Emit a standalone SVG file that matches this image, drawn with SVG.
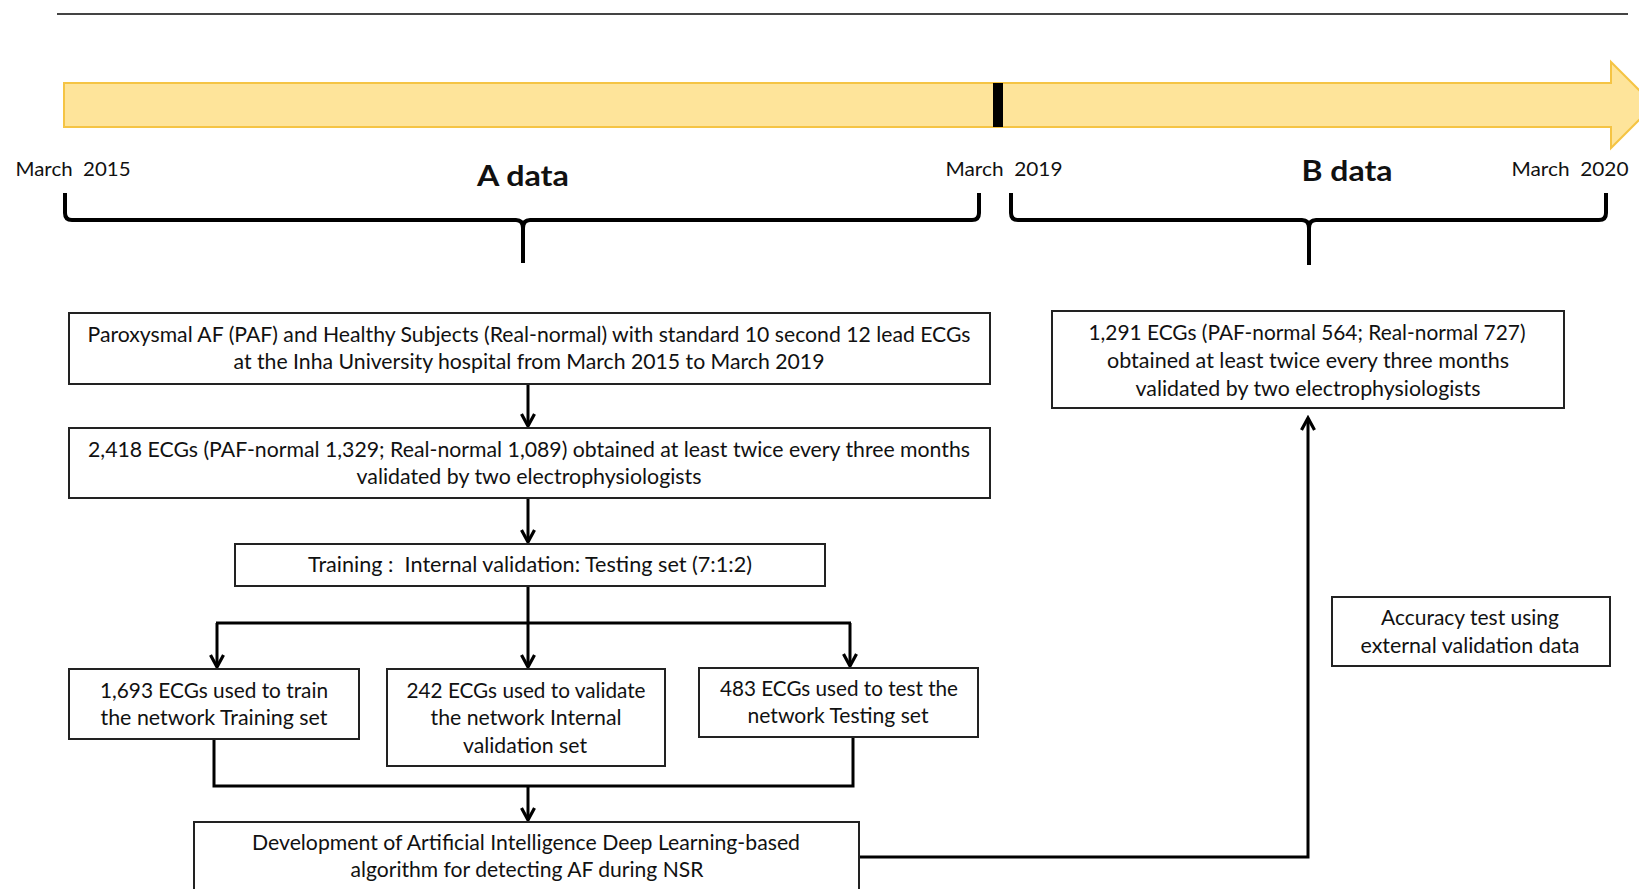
<svg xmlns="http://www.w3.org/2000/svg" width="1639" height="889" viewBox="0 0 1639 889">
<style>
.box{fill:#fff;stroke:#222;stroke-width:2}
.t{font-family:Lato,"Liberation Sans",sans-serif;font-size:21px;fill:#111;text-anchor:middle;white-space:pre}
.d{font-family:Lato,"Liberation Sans",sans-serif;font-size:19px;fill:#111;text-anchor:middle;white-space:pre}
.h{font-family:Lato,"Liberation Sans",sans-serif;font-size:29px;font-weight:bold;fill:#111;text-anchor:middle}
.c{fill:none;stroke:#000;stroke-width:3}
.br{fill:none;stroke:#000;stroke-width:4}
</style>
<defs>
<marker id="arr" viewBox="-15 -9 18 18" refX="0" refY="0" markerWidth="18" markerHeight="18" markerUnits="userSpaceOnUse" orient="auto">
<path d="M-12,-6.5 L0,0 L-12,6.5" fill="none" stroke="#000" stroke-width="3.2"/>
</marker>
</defs>
<rect width="1639" height="889" fill="#fff"/>
<g id="timeline">
<line x1="57" y1="14" x2="1628" y2="14" stroke="#444" stroke-width="2"/>
<path d="M64,83 L1611,83 L1611,62 L1654,105 L1611,148 L1611,127 L64,127 Z" fill="#FEE49A" stroke="#F5C444" stroke-width="2"/>
<rect x="993" y="83" width="10" height="44" fill="#000"/>
<text class="d" x="73" y="176" textLength="115" lengthAdjust="spacingAndGlyphs" xml:space="preserve">March  2015</text>
<text class="d" x="1004" y="176" textLength="117" lengthAdjust="spacingAndGlyphs" xml:space="preserve">March  2019</text>
<text class="d" x="1570" y="176" textLength="117" lengthAdjust="spacingAndGlyphs" xml:space="preserve">March  2020</text>
<text class="h" x="523" y="186" textLength="92" lengthAdjust="spacingAndGlyphs">A data</text>
<text class="h" x="1347" y="181" textLength="91" lengthAdjust="spacingAndGlyphs">B data</text>
<path class="br" d="M65,193 L65,213 Q65,220 72,220 L516,220 Q523,220 523,228 L523,263 M523,228 Q523,220 530,220 L972,220 Q979,220 979,213 L979,193"/>
<path class="br" d="M1011,193 L1011,213 Q1011,220 1018,220 L1302,220 Q1309,220 1309,228 L1309,265 M1309,228 Q1309,220 1316,220 L1599,220 Q1606,220 1606,213 L1606,193"/>
</g>
<g id="connectors">
<path class="c" d="M528,384 L528,426" marker-end="url(#arr)"/>
<path class="c" d="M528,498 L528,542" marker-end="url(#arr)"/>
<path class="c" d="M528,586 L528,623 M216,623 L851,623"/>
<path class="c" d="M217,623 L217,667" marker-end="url(#arr)"/>
<path class="c" d="M528,623 L528,667" marker-end="url(#arr)"/>
<path class="c" d="M850,623 L850,666" marker-end="url(#arr)"/>
<path class="c" d="M214,739 L214,786 L853,786 L853,737"/>
<path class="c" d="M528,786 L528,820" marker-end="url(#arr)"/>
<path class="c" d="M859,857 L1308,857 L1308,418" marker-end="url(#arr)"/>
</g>
<g id="n1">
<rect class="box" x="69" y="313" width="921" height="71"/>
<text class="t" x="529" y="342" textLength="883" lengthAdjust="spacingAndGlyphs">Paroxysmal AF (PAF) and Healthy Subjects (Real-normal) with standard 10 second 12 lead ECGs</text>
<text class="t" x="529" y="369" textLength="591" lengthAdjust="spacingAndGlyphs">at the Inha University hospital from March 2015 to March 2019</text>
</g>
<g id="n2">
<rect class="box" x="69" y="428" width="921" height="70"/>
<text class="t" x="529" y="457" textLength="882" lengthAdjust="spacingAndGlyphs">2,418 ECGs (PAF-normal 1,329; Real-normal 1,089) obtained at least twice every three months</text>
<text class="t" x="529" y="484" textLength="345" lengthAdjust="spacingAndGlyphs">validated by two electrophysiologists</text>
</g>
<g id="n3">
<rect class="box" x="235" y="544" width="590" height="42"/>
<text class="t" x="530" y="572" textLength="444" lengthAdjust="spacingAndGlyphs" xml:space="preserve">Training :  Internal validation: Testing set (7:1:2)</text>
</g>
<g id="n4">
<rect class="box" x="69" y="669" width="290" height="70"/>
<text class="t" x="214" y="698" textLength="228" lengthAdjust="spacingAndGlyphs">1,693 ECGs used to train</text>
<text class="t" x="214" y="725" textLength="227" lengthAdjust="spacingAndGlyphs">the network Training set</text>
</g>
<g id="n5">
<rect class="box" x="387" y="669" width="278" height="97"/>
<text class="t" x="526" y="698" textLength="239" lengthAdjust="spacingAndGlyphs">242 ECGs used to validate</text>
<text class="t" x="526" y="725" textLength="191" lengthAdjust="spacingAndGlyphs">the network Internal</text>
<text class="t" x="525" y="753" textLength="124" lengthAdjust="spacingAndGlyphs">validation set</text>
</g>
<g id="n6">
<rect class="box" x="699" y="668" width="279" height="69"/>
<text class="t" x="839" y="696" textLength="238" lengthAdjust="spacingAndGlyphs">483 ECGs used to test the</text>
<text class="t" x="838" y="723" textLength="181" lengthAdjust="spacingAndGlyphs">network Testing set</text>
</g>
<g id="n7">
<rect class="box" x="194" y="822" width="665" height="80"/>
<text class="t" x="526" y="850" textLength="548" lengthAdjust="spacingAndGlyphs">Development of Artificial Intelligence Deep Learning-based</text>
<text class="t" x="527" y="877" textLength="353" lengthAdjust="spacingAndGlyphs">algorithm for detecting AF during NSR</text>
</g>
<g id="nB">
<rect class="box" x="1052" y="311" width="512" height="97"/>
<text class="t" x="1307" y="340" textLength="437" lengthAdjust="spacingAndGlyphs">1,291 ECGs (PAF-normal 564; Real-normal 727)</text>
<text class="t" x="1308" y="368" textLength="402" lengthAdjust="spacingAndGlyphs">obtained at least twice every three months</text>
<text class="t" x="1308" y="396" textLength="345" lengthAdjust="spacingAndGlyphs">validated by two electrophysiologists</text>
</g>
<g id="nAcc">
<rect class="box" x="1332" y="597" width="278" height="69"/>
<text class="t" x="1470" y="625" textLength="178" lengthAdjust="spacingAndGlyphs">Accuracy test using</text>
<text class="t" x="1470" y="653" textLength="219" lengthAdjust="spacingAndGlyphs">external validation data</text>
</g>
</svg>
